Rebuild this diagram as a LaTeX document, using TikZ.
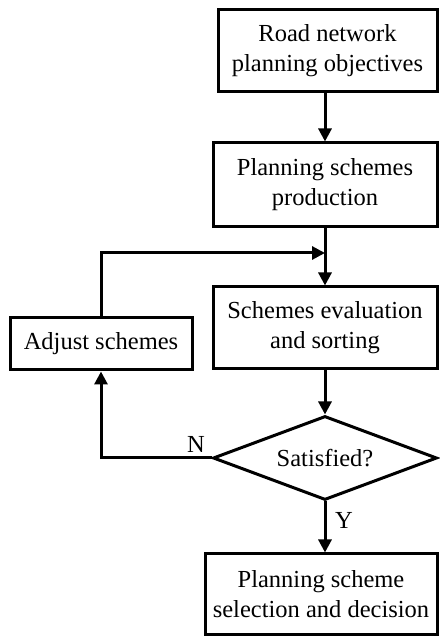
\documentclass[tikz,border=0pt]{standalone}
\usepackage{fontspec}
\setmainfont{Liberation Serif}
\usetikzlibrary{shapes.geometric,arrows.meta}
\begin{document}
\begin{tikzpicture}[x=1pt,y=1pt,
  box/.style={draw,line width=3pt,align=center,inner sep=0pt,font=\fontsize{24.5}{30}\selectfont},
  arr/.style={line width=3pt,-{Triangle[length=13pt,width=13pt]}},
  lbl/.style={font=\fontsize{24.5}{30}\selectfont}]
\useasboundingbox (0,0) rectangle (439,637);
\node[box,minimum width=219pt,minimum height=82pt] (b1) at (327.5,586) {Road network\\planning objectives};
\node[box,minimum width=224pt,minimum height=84pt] (b2) at (325,452) {Planning schemes\\production};
\node[box,minimum width=224pt,minimum height=82pt] (b3) at (325,309) {Schemes evaluation\\and sorting};
\node[box,minimum width=182pt,minimum height=52pt] (adj) at (101,293) {Adjust schemes};
\node[box,diamond,aspect=2.67,minimum width=224pt,minimum height=84pt] (dia) at (325,179) {Satisfied?};
\node[box,minimum width=232pt,minimum height=81pt] (b5) at (321,42.5) {Planning scheme\\selection and decision};
\coordinate (j) at (325,384);
\draw[arr] (b1.south -| b2.north) -- (b2.north);
\draw[line width=3pt] (b2.south) -- (j);
\draw[arr] (j) -- (b3.north);
\draw[arr] (adj.north) |- (j);
\draw[arr] (b3.south) -- (dia.north);
\draw[arr] (dia.west) -| (adj.south);
\draw[arr] (dia.south) -- (b5.north -| dia.south);
\node[lbl] (n) at (196,193) {N};
\node[lbl] (y) at (344,117) {Y};
\end{tikzpicture}
\end{document}
